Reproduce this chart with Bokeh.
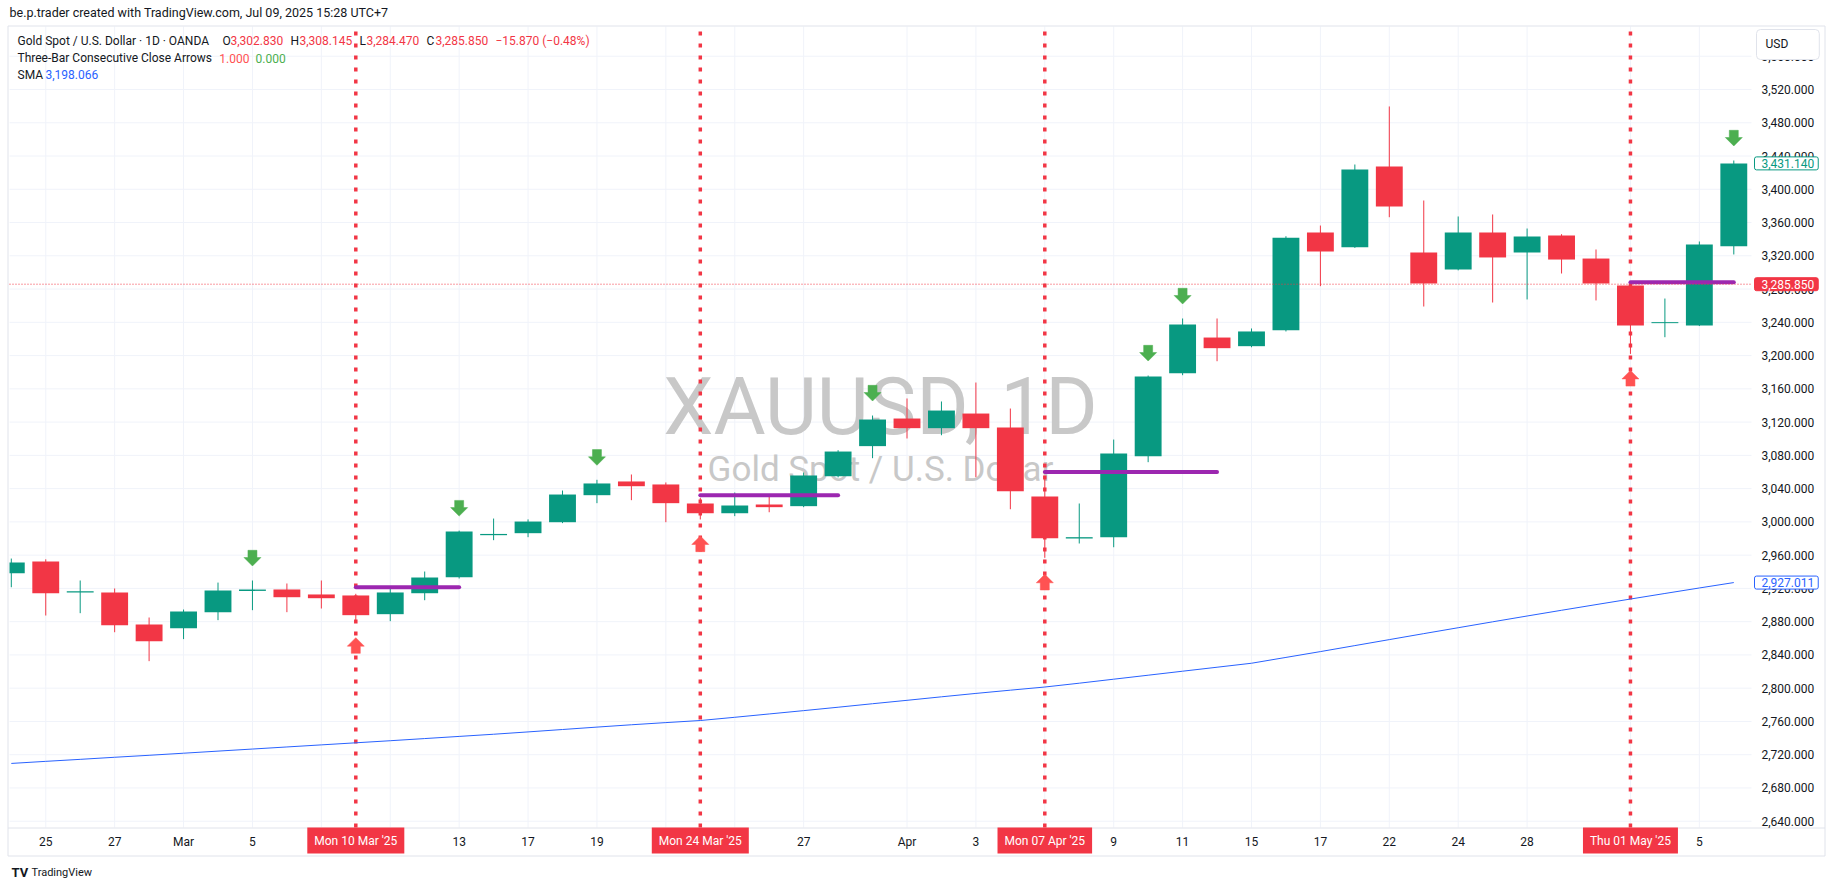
from bokeh.plotting import figure
from bokeh.models import Range1d, Label, ColumnDataSource
from bokeh.core.properties import value
from bokeh.embed import file_html
from bokeh.resources import INLINE

# ---------------- data ----------------
dates = ["2025-02-24", "2025-02-25", "2025-02-26", "2025-02-27", "2025-02-28",
         "2025-03-03", "2025-03-04", "2025-03-05", "2025-03-06", "2025-03-07",
         "2025-03-10", "2025-03-11", "2025-03-12", "2025-03-13", "2025-03-14",
         "2025-03-17", "2025-03-18", "2025-03-19", "2025-03-20", "2025-03-21",
         "2025-03-24", "2025-03-25", "2025-03-26", "2025-03-27", "2025-03-28",
         "2025-03-31", "2025-04-01", "2025-04-02", "2025-04-03", "2025-04-04",
         "2025-04-07", "2025-04-08", "2025-04-09", "2025-04-10", "2025-04-11",
         "2025-04-14", "2025-04-15", "2025-04-16", "2025-04-17", "2025-04-21",
         "2025-04-22", "2025-04-23", "2025-04-24", "2025-04-25", "2025-04-28",
         "2025-04-29", "2025-04-30", "2025-05-01", "2025-05-02", "2025-05-05",
         "2025-05-06"]

opens = [2938.3, 2952.3, 2915.2, 2915.1, 2876.6, 2872.1, 2891.4, 2917.0, 2918.7, 2912.7,
         2911.5, 2889.0, 2914.2, 2933.5, 2984.0, 2986.4, 2999.6, 3032.1, 3048.6, 3045.0,
         3022.1, 3010.4, 3020.9, 3018.9, 3054.9, 3091.1, 3124.3, 3112.7, 3130.3, 3113.5,
         3030.5, 2980.0, 2981.6, 3079.0, 3178.8, 3221.7, 3211.3, 3230.4, 3348.0, 3330.2,
         3427.4, 3324.0, 3303.5, 3348.0, 3324.0, 3344.4, 3316.7, 3284.3, 3239.0, 3236.2,
         3331.6]
highs = [2955.9, 2955.0, 2929.5, 2919.9, 2885.0, 2894.6, 2927.0, 2929.5, 2925.9, 2929.5,
         2913.5, 2920.7, 2940.3, 2989.5, 3004.0, 3003.0, 3037.7, 3050.6, 3057.0, 3047.4,
         3029.0, 3035.3, 3031.7, 3059.4, 3086.2, 3127.9, 3148.4, 3144.8, 3167.6, 3136.3,
         3055.0, 3022.1, 3099.0, 3176.0, 3244.6, 3244.6, 3232.6, 3343.5, 3356.4, 3429.8,
         3499.6, 3386.5, 3367.3, 3369.7, 3352.8, 3346.0, 3327.6, 3285.5, 3268.6, 3337.2,
         3434.6]
lows = [2921.4, 2887.4, 2890.2, 2867.3, 2832.5, 2859.0, 2881.8, 2893.8, 2891.4, 2895.8,
        2880.6, 2880.6, 2905.8, 2931.9, 2978.0, 2981.6, 2998.5, 3022.5, 3026.1, 2999.6,
        3002.9, 3006.9, 3011.6, 3017.7, 3053.5, 3076.6, 3100.3, 3104.2, 3053.7, 3015.2,
        2956.8, 2974.0, 2969.5, 3071.8, 3176.4, 3193.2, 3210.0, 3229.0, 3283.5, 3329.5,
        3366.4, 3259.0, 3302.5, 3263.8, 3267.5, 3298.7, 3266.3, 3202.0, 3222.1, 3235.5,
        3321.6]
closes = [2951.1, 2914.2, 2916.6, 2875.8, 2856.5, 2892.2, 2917.5, 2918.6, 2909.4, 2908.2,
          2887.8, 2915.1, 2933.1, 2988.4, 2985.5, 3000.4, 3032.9, 3046.2, 3042.9, 3022.5,
          3010.4, 3019.7, 3017.7, 3055.8, 3084.6, 3123.1, 3112.7, 3133.9, 3112.7, 3036.9,
          2980.4, 2981.6, 3082.2, 3174.8, 3237.4, 3208.9, 3229.0, 3341.6, 3325.2, 3423.8,
          3379.3, 3286.7, 3348.0, 3318.0, 3343.2, 3315.5, 3286.7, 3236.2, 3240.2, 3333.6,
          3431.14]
sma = [2709.5, 2712.0, 2714.4, 2716.9, 2719.3, 2721.8, 2724.3, 2726.8, 2729.3, 2731.8,
       2734.3, 2736.8, 2739.4, 2742.0, 2744.6, 2747.4, 2750.3, 2753.2, 2756.0, 2758.6,
       2761.1, 2765.0, 2769.0, 2773.0, 2777.1, 2781.3, 2785.4, 2789.6, 2793.7, 2797.6,
       2801.4, 2806.0, 2810.8, 2815.6, 2820.4, 2825.2, 2830.0, 2837.0, 2844.0, 2851.2,
       2858.4, 2865.6, 2872.7, 2879.8, 2886.8, 2893.7, 2900.5, 2907.2, 2913.9, 2920.5,
       2927.011]

up_arrow_idx = [10, 20, 30, 47]
down_arrow_idx = [7, 13, 17, 25, 33, 34, 50]
level_start = [10, 20, 30, 47]
level_end = [13, 24, 35, 50]
level_price = [2921.5, 3032.1, 3060.0, 3288.3]
signal_idx = [10, 20, 30, 47]
signal_text = ["Mon 10 Mar '25", "Mon 24 Mar '25", "Mon 07 Apr '25", "Thu 01 May '25"]

tick_idx = [1, 3, 5, 7, 9, 11, 13, 15, 17, 19, 21, 23, 26, 28, 30, 32, 34, 36, 38, 40, 42, 44, 47, 49]
tick_text = ["25", "27", "Mar", "5", "7", "11", "13", "17", "19", "21", "25", "27",
             "Apr", "3", "7", "9", "11", "15", "17", "22", "24", "28", "May", "5"]
price_ticks = [2640, 2680, 2720, 2760, 2800, 2840, 2880, 2920, 2960, 3000, 3040, 3080,
               3120, 3160, 3200, 3240, 3280, 3320, 3360, 3400, 3440, 3480, 3520, 3560]

last_ohlc = [3302.830, 3308.145, 3284.470, 3285.850]
last_change = [-15.870, -0.48]
arrow_values = [1.000, 0.000]
sma_last = 3198.066

# ---------------- geometry (page pixels -> data) ----------------
W, H = 1830, 880
FIG_LEFT, FIG_TOP = 1, 1       # where the canvas lands in the screenshot
PX_BAR = 34.45                 # px per bar
BAR0_X = 11.8                  # page x of bar 0
PX_USD = 0.8315                # px per USD
REF_P, REF_Y = 3520.0, 90.0    # price 3520 at page y 90
HALF_BODY = 0.39               # half candle body width, in bars


def fx(px):
    return (px - BAR0_X) / PX_BAR


def fy(py):
    return REF_P - (py - REF_Y) / PX_USD


PANE_L, PANE_R, PANE_T, PANE_B = 10, 1752, 27, 828
XP0, XP1 = fx(PANE_L), fx(PANE_R)
YP0, YP1 = fy(PANE_B), fy(PANE_T)

GREEN = "#089981"
RED = "#f23645"
TXT = "#131722"
GRID = "#f0f3fa"
BORDER = "#e0e3eb"
FONT = "Roboto"

p = figure(width=W, height=H, x_range=Range1d(fx(FIG_LEFT), fx(FIG_LEFT + W)),
           y_range=Range1d(fy(FIG_TOP + H), fy(FIG_TOP)),
           x_axis_location=None, y_axis_location=None,
           output_backend="svg", toolbar_location=None, min_border=0,
           background_fill_color="white", border_fill_color="white")
p.outline_line_color = None
p.xgrid.visible = False
p.ygrid.visible = False


def txt(px, py, s, color=TXT, size="12px", align="left", baseline="middle", style="normal"):
    p.text(x=[fx(px)], y=[fy(py)], text=[s], text_font=value(FONT), text_font_size=size,
           text_color=color, text_align=align, text_baseline=baseline,
           text_font_style=style)


# grid lines (from tick arrays), limited to the pane
nt = len(tick_idx)
p.segment(x0=tick_idx, y0=[YP0] * nt, x1=tick_idx, y1=[YP1] * nt,
          line_color=GRID, line_width=1)
npk = len(price_ticks)
p.segment(x0=[XP0] * npk, y0=price_ticks, x1=[XP1] * npk, y1=price_ticks,
          line_color=GRID, line_width=1)

# watermark (under the candles)
txt(881, 407, "XAUUSD, 1D", color="#c8c8c8", size="80px", align="center", baseline="alphabetic")
txt(881, 470, "Gold Spot / U.S. Dollar", color="#c8c8c8", size="35px", align="center",
    baseline="alphabetic")

# panel borders
p.segment(x0=[fx(8.5), fx(8.5), fx(1825.5), fx(8.5), fx(8.5)],
          y0=[fy(26.5), fy(856.5), fy(26.5), fy(26.5), fy(828.5)],
          x1=[fx(1825.5), fx(1825.5), fx(1825.5), fx(8.5), fx(1825.5)],
          y1=[fy(26.5), fy(856.5), fy(856.5), fy(856.5), fy(828.5)],
          line_color=BORDER, line_width=1)

# signal dotted verticals
k = len(signal_idx)
p.segment(x0=signal_idx, y0=[YP0] * k, x1=signal_idx, y1=[YP1] * k,
          line_color=RED, line_width=3.5, line_dash="4 8")

# SMA
idx = list(range(len(closes)))
p.line(idx, sma, line_color="#2962ff", line_width=1)

# candles (bodies clipped to the pane)
colors = [GREEN if c >= o else RED for o, c in zip(opens, closes)]
src = ColumnDataSource(dict(x=idx, h=highs, l=lows,
                            left=[max(i - HALF_BODY, XP0) for i in idx],
                            right=[min(i + HALF_BODY, XP1) for i in idx],
                            top=[max(o, c) for o, c in zip(opens, closes)],
                            bottom=[min(o, c) for o, c in zip(opens, closes)],
                            color=colors))
p.segment(x0="x", y0="h", x1="x", y1="l", line_color="color", line_width=1, source=src)
p.quad(left="left", right="right", top="top", bottom="bottom", fill_color="color",
       line_color=None, source=src)

# level lines
p.segment(x0=level_start, y0=level_price, x1=level_end, y1=level_price,
          line_color="#9c27b0", line_width=4, line_cap="round")

# arrows (shape offsets in px, converted with the scales)
shape = [(0, 0), (8.5, 8.5), (4.5, 8.5), (4.5, 15.7), (-4.5, 15.7), (-4.5, 8.5), (-8.5, 8.5)]
dxs, dys, uxs, uys = [], [], [], []
for i in down_arrow_idx:
    apex = highs[i] + 14.5 / PX_USD
    dxs.append([i + sx / PX_BAR for sx, sy in shape])
    dys.append([apex + sy / PX_USD for sx, sy in shape])
for i in up_arrow_idx:
    apex = lows[i] - 16.5 / PX_USD
    uxs.append([i + sx / PX_BAR for sx, sy in shape])
    uys.append([apex - sy / PX_USD for sx, sy in shape])
p.patches(dxs, dys, fill_color="#4caf50", line_color="#4caf50", line_width=0.5)
p.patches(uxs, uys, fill_color="#ff5252", line_color="#ff5252", line_width=0.5)

# current price dotted line
p.segment(x0=[XP0], y0=[last_ohlc[3]], x1=[XP1], y1=[last_ohlc[3]],
          line_color=RED, line_width=1, line_dash="1 2")

fmt = lambda v: f"{v:,.3f}"

# price axis labels
p.text(x=[fx(1762)] * npk, y=price_ticks, text=[fmt(t) for t in price_ticks],
       text_font=value(FONT), text_font_size="12px", text_color=TXT,
       text_align="left", text_baseline="middle")

# time axis labels (hide ones under the highlighted date boxes)
vis = [(t, lab) for t, lab in zip(tick_idx, tick_text)
       if all(abs(t - s) > 1 for s in signal_idx)]
p.text(x=[t for t, _ in vis], y=[fy(842)] * len(vis), text=[lab for _, lab in vis],
       text_font=value(FONT), text_font_size="12px", text_color=TXT,
       text_align="center", text_baseline="middle")

# header
txt(10, 13, "be.p.trader created with TradingView.com, Jul 09, 2025 15:28 UTC+7", size="12.5px")

# legend
y1 = 41
txt(18, y1, "Gold Spot / U.S. Dollar · 1D · OANDA")
for x_l, x_v, letter, val in [(223, 231, "O", last_ohlc[0]), (291, 300, "H", last_ohlc[1]),
                              (360, 367, "L", last_ohlc[2]), (427, 436, "C", last_ohlc[3])]:
    txt(x_l, y1, letter)
    txt(x_v, y1, fmt(val), color=RED)
txt(496, y1, f"\u2212{abs(last_change[0]):.3f} (\u2212{abs(last_change[1]):.2f}%)", color=RED)
y2 = 58.5
txt(18, y2, "Three-Bar Consecutive Close Arrows")
txt(219.8, y2, f"{arrow_values[0]:.3f}", color="#ff5252")
txt(256, y2, f"{arrow_values[1]:.3f}", color="#4caf50")
y3 = 75
txt(18, y3, "SMA")
txt(46, y3, fmt(sma_last), color="#2962ff")

# bottom logo
txt(12, 873, "TV", size="13px", style="bold")
txt(32, 873, "TradingView", size="11px")

# highlighted signal dates on the time axis
for i, s in zip(signal_idx, signal_text):
    p.add_layout(Label(x=i, y=fy(841), text=s,
                       text_font=FONT, text_font_size="12px", text_color="white",
                       text_align="center", text_baseline="middle",
                       background_fill_color=RED, background_fill_alpha=1.0,
                       padding=dict(left=7, right=7, top=6, bottom=6)))


# price tags on the price axis (label box starts at x; text is inset by padding)
def tag(y, s, fg, bg, border):
    p.add_layout(Label(x=fx(1755), y=y, text=s,
                       text_font=FONT, text_font_size="12px", text_color=fg,
                       text_align="left", text_baseline="middle",
                       background_fill_color=bg, background_fill_alpha=1.0,
                       border_line_color=border, border_line_width=1,
                       padding=dict(left=7, right=4, top=2, bottom=2), border_radius=2))


tag(closes[-1], fmt(closes[-1]), GREEN, "white", GREEN)
tag(last_ohlc[3], fmt(last_ohlc[3]), "white", RED, RED)
tag(sma[-1], fmt(sma[-1]), "#2962ff", "white", "#2962ff")

# USD box
p.add_layout(Label(x=fx(1757), y=fy(45), text="USD",
                   text_font=FONT, text_font_size="12px", text_color=TXT,
                   text_align="left", text_baseline="middle",
                   background_fill_color="white", background_fill_alpha=1.0,
                   border_line_color=BORDER, border_line_width=1,
                   padding=dict(left=9, right=31, top=7, bottom=9), border_radius=4))

open("out.html", "w").write(file_html(p, INLINE))
